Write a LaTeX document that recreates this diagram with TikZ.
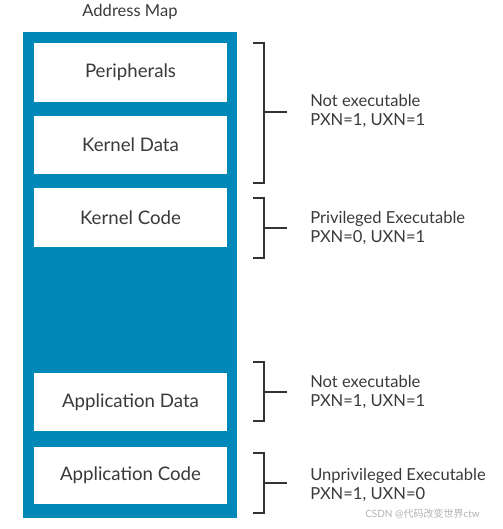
\documentclass[tikz,border=0pt]{standalone}
\usepackage{fontspec}
\setmainfont{Lato}
\newfontfamily\cjk{Noto Sans CJK SC}
\definecolor{armblue}{HTML}{0088B8}
\definecolor{txt}{HTML}{3A3A3A}
\definecolor{brk}{HTML}{333333}
\begin{document}
\begin{tikzpicture}[x=0.75pt,y=-0.75pt,
  region/.style={fill=white,draw=none,text=txt,font=\fontsize{14}{16}\selectfont},
  brack/.style={draw=brk,line width=1.5pt},
  perm/.style={anchor=west,align=left,text=txt,font=\fontsize{12.4}{14.5}\selectfont,inner sep=0pt}]
\useasboundingbox (0,0) rectangle (503,529);
\node[text=txt,font=\fontsize{12.4}{14}\selectfont] (title) at (130,12) {Address Map};
\fill[armblue] (23,32) rectangle (237,518);
\path[region] (34,43) rectangle (227,102) node[midway] (per) {Peripherals};
\path[region] (34,116) rectangle (227,174) node[midway] (kd) {Kernel Data};
\path[region] (34,188) rectangle (227,247) node[midway] (kc) {Kernel Code};
\path[region] (34,373) rectangle (227,431) node[midway] (ad) {Application Data};
\path[region] (34,447) rectangle (227,504) node[midway] (ac) {Application Code};
% brackets
\coordinate (b1t) at (253,43); \coordinate (b1b) at (253,183); \coordinate (b1m) at (287,112);
\coordinate (b2t) at (253,198); \coordinate (b2b) at (253,258); \coordinate (b2m) at (287,228);
\coordinate (b3t) at (253,362); \coordinate (b3b) at (253,421); \coordinate (b3m) at (287,392);
\coordinate (b4t) at (253,453); \coordinate (b4b) at (253,513); \coordinate (b4m) at (287,483);
\foreach \b in {b1,b2,b3,b4}{
  \draw[brack] (\b t) -| ([xshift=8.25pt]\b b) -- (\b b);
  \draw[brack] (\b m -| \b t) ++(8.25pt,0) -- (\b m);
}
\node[perm] (p1) at (310,111) {Not executable\\PXN=1, UXN=1};
\node[perm] (p2) at (310,228) {Privileged Executable\\PXN=0, UXN=1};
\node[perm] (p3) at (310,392) {Not executable\\PXN=1, UXN=1};
\node[perm] (p4) at (310,485) {Unprivileged Executable\\PXN=1, UXN=0};
\node[anchor=west,text=gray!60,font=\fontsize{7.5}{9}\selectfont,inner sep=0pt] (wm) at (365,514) {CSDN @{\cjk 代码改变世界}ctw};
\end{tikzpicture}
\end{document}
